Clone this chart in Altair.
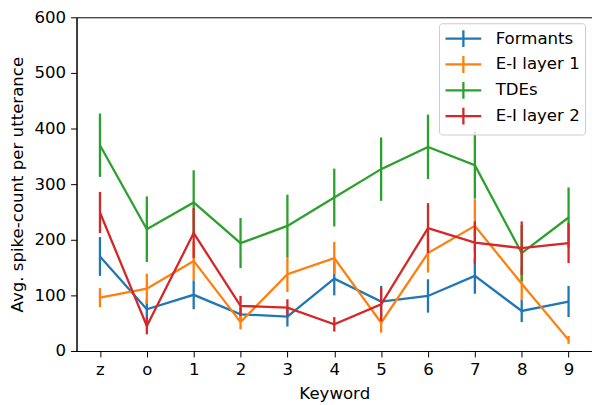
import altair as alt
import pandas as pd

keywords = ["z", "o", "1", "2", "3", "4", "5", "6", "7", "8", "9"]
series_names = ["Formants", "E-I layer 1", "TDEs", "E-I layer 2"]
colors = ["#1f77b4", "#ff7f0e", "#2ca02c", "#d62728"]

formants = [170, 75, 101, 66, 62, 130, 89, 99, 135, 72, 89]
formants_err = [35, 18, 26, 12, 18, 30, 28, 30, 32, 20, 28]
ei1 = [96, 112, 162, 52, 138, 167, 51, 176, 225, 121, 20]
ei1_err = [17, 27, 35, 13, 32, 29, 18, 35, 48, 30, 7]
tdes = [370, 219, 267, 194, 225, 276, 327, 367, 334, 176, 240]
tdes_err = [57, 59, 58, 45, 56, 52, 57, 58, 60, 50, 54]
ei2 = [249, 45, 212, 81, 78, 48, 84, 221, 195, 185, 194]
ei2_err = [37, 15, 45, 18, 15, 13, 30, 45, 38, 48, 36]

values = [formants, ei1, tdes, ei2]
errors = [formants_err, ei1_err, tdes_err, ei2_err]

rows = []
for name, vals, errs in zip(series_names, values, errors):
    for k, v, e in zip(keywords, vals, errs):
        rows.append({"series": name, "keyword": k, "value": v,
                     "lo": v - e, "hi": v + e})
df = pd.DataFrame(rows)

FONT = "DejaVu Sans"
FS = 16.7
LW = 2.3

x_enc = alt.X("keyword:N", sort=keywords, title="Keyword",
              scale=alt.Scale(type="point", padding=0.5),
              axis=alt.Axis(labelAngle=0, titlePadding=7))
color_enc = alt.Color("series:N",
                      scale=alt.Scale(domain=series_names, range=colors),
                      legend=alt.Legend(title=None, orient="none",
                                        legendX=365, legendY=6))

layers = []
for name in series_names:
    sub = df[df["series"] == name]
    base = alt.Chart(sub)
    line = base.mark_line(strokeWidth=LW).encode(
        x=x_enc,
        y=alt.Y("value:Q", title="Avg. spike-count per utterance",
                scale=alt.Scale(domain=[0, 600], nice=False),
                axis=alt.Axis(values=[0, 100, 200, 300, 400, 500, 600],
                              titlePadding=8)),
        color=color_enc,
    )
    bars = base.mark_rule(strokeWidth=LW).encode(
        x=x_enc,
        y="lo:Q",
        y2="hi:Q",
        color=color_enc,
    )
    layers += [line, bars]

chart = alt.layer(*layers).properties(
    width=519, height=336,
    autosize=alt.AutoSizeParams(type="none"),
    padding={"left": 69, "top": 8, "right": 0, "bottom": 53},
).configure_view(
    stroke="black", strokeWidth=1
).configure_axis(
    grid=False, domainColor="black", domainWidth=1,
    tickColor="black", tickWidth=1, tickSize=6,
    labelColor="black", labelFont=FONT, labelFontSize=FS, labelPadding=5,
    titleColor="black", titleFont=FONT, titleFontSize=FS, titleFontWeight="normal",
).configure_legend(
    labelFont=FONT, labelFontSize=FS, labelColor="black",
    symbolType="M-2,0H2M0,-0.94V0.94", symbolSize=324, symbolStrokeWidth=LW,
    symbolFillColor="transparent", symbolOffset=9,
    labelOffset=22, rowPadding=-1, padding=5,
    fillColor="rgba(255,255,255,0.8)", strokeColor="#cccccc", cornerRadius=3,
)

chart.save("out.html", embed_options={"renderer": "svg", "actions": False})
